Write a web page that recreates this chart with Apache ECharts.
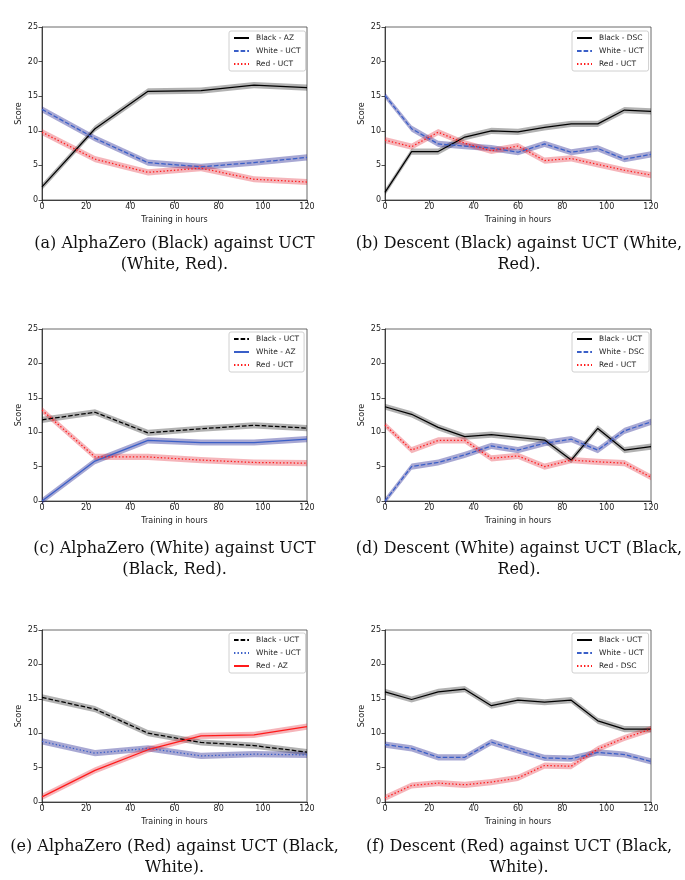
<!DOCTYPE html>
<html>
<head>
<meta charset="utf-8">
<script src="https://cdn.jsdelivr.net/npm/echarts@6/dist/echarts.min.js"></script>
<style>
  html, body { margin: 0; padding: 0; background: #fff; }
  #chart { width: 685px; height: 880px; }
</style>
</head>
<body>
<div id="chart"></div>
<script>
// x values (training hours)
const hoursAZ = [0, 24, 48, 72, 96, 120];
const hoursDSC = [0, 12, 24, 36, 48, 60, 72, 84, 96, 108, 120];
const xTicks = [0, 20, 40, 60, 80, 100, 120];
const yTicks = [0, 5, 10, 15, 20, 25];

// (a) AlphaZero (Black) vs UCT
const aBlack = [1.9, 10.3, 15.7, 15.8, 16.6, 16.25];
const aWhite = [13.1, 8.9, 5.4, 4.8, 5.4, 6.15];
const aRed   = [9.8, 5.9, 4.0, 4.6, 3.0, 2.6];
// (b) Descent (Black) vs UCT
const bBlack = [1.1, 7.0, 7.0, 9.1, 10.0, 9.85, 10.5, 11.0, 11.0, 13.0, 12.8];
const bWhite = [15.1, 10.3, 8.1, 7.8, 7.5, 6.9, 8.1, 6.9, 7.45, 5.9, 6.6];
const bRed   = [8.65, 7.7, 9.8, 8.2, 7.1, 7.8, 5.7, 6.0, 5.15, 4.3, 3.6];
// (c) AlphaZero (White) vs UCT
const cBlack = [11.8, 12.9, 9.9, 10.5, 11.0, 10.6];
const cWhite = [0, 5.8, 8.8, 8.5, 8.5, 9.0];
const cRed   = [13.2, 6.4, 6.4, 5.95, 5.6, 5.5];
// (d) Descent (White) vs UCT
const dBlack = [13.7, 12.6, 10.7, 9.35, 9.65, 9.25, 8.85, 5.95, 10.55, 7.4, 7.9];
const dWhite = [0, 5.0, 5.6, 6.7, 8.0, 7.4, 8.4, 9.0, 7.4, 10.2, 11.5];
const dRed   = [11.05, 7.4, 8.8, 8.8, 6.2, 6.55, 5.0, 5.95, 5.7, 5.5, 3.45];
// (e) AlphaZero (Red) vs UCT
const eBlack = [15.2, 13.5, 10.0, 8.65, 8.2, 7.25];
const eWhite = [8.8, 7.1, 7.8, 6.7, 6.95, 6.85];
const eRed   = [0.75, 4.6, 7.6, 9.6, 9.75, 10.95];
// (f) Descent (Red) vs UCT
const fBlack = [16.0, 14.9, 16.0, 16.4, 14.0, 14.8, 14.5, 14.8, 11.8, 10.6, 10.6];
const fWhite = [8.35, 7.8, 6.5, 6.5, 8.7, 7.5, 6.4, 6.3, 7.2, 6.9, 5.9];
const fRed   = [0.6, 2.4, 2.75, 2.5, 2.9, 3.5, 5.3, 5.2, 7.7, 9.3, 10.6];

// half-width of the shaded band around each line
const bandHalf = 0.45;

const captions = [
  '(a) AlphaZero (Black) against UCT\n(White, Red).',
  '(b) Descent (Black) against UCT (White,\nRed).',
  '(c) AlphaZero (White) against UCT\n(Black, Red).',
  '(d) Descent (White) against UCT (Black,\nRed).',
  '(e) AlphaZero (Red) against UCT (Black,\nWhite).',
  '(f) Descent (Red) against UCT (Black,\nWhite).'
];

const C = {
  black: { line: '#000000', band: 'rgba(0,0,0,0.3)' },
  white: { line: '#3a5fc8', band: 'rgba(25,25,140,0.38)' },
  red:   { line: '#ff1a1a', band: 'rgba(225,30,45,0.33)' }
};
const DASH = [4.6, 2];
const DOT = [1.4, 2.1];

const panels = [
  { hours: hoursAZ, lines: [
    { name: 'Black - AZ', data: aBlack, c: 'black', t: 'solid' },
    { name: 'White - UCT', data: aWhite, c: 'white', t: DASH },
    { name: 'Red - UCT', data: aRed, c: 'red', t: DOT }] },
  { hours: hoursDSC, lines: [
    { name: 'Black - DSC', data: bBlack, c: 'black', t: 'solid' },
    { name: 'White - UCT', data: bWhite, c: 'white', t: DASH },
    { name: 'Red - UCT', data: bRed, c: 'red', t: DOT }] },
  { hours: hoursAZ, lines: [
    { name: 'Black - UCT', data: cBlack, c: 'black', t: DASH },
    { name: 'White - AZ', data: cWhite, c: 'white', t: 'solid' },
    { name: 'Red - UCT', data: cRed, c: 'red', t: DOT }] },
  { hours: hoursDSC, lines: [
    { name: 'Black - UCT', data: dBlack, c: 'black', t: 'solid' },
    { name: 'White - DSC', data: dWhite, c: 'white', t: DASH },
    { name: 'Red - UCT', data: dRed, c: 'red', t: DOT }] },
  { hours: hoursAZ, lines: [
    { name: 'Black - UCT', data: eBlack, c: 'black', t: DASH },
    { name: 'White - UCT', data: eWhite, c: 'white', t: DOT },
    { name: 'Red - AZ', data: eRed, c: 'red', t: 'solid' }] },
  { hours: hoursDSC, lines: [
    { name: 'Black - UCT', data: fBlack, c: 'black', t: 'solid' },
    { name: 'White - UCT', data: fWhite, c: 'white', t: DASH },
    { name: 'Red - DSC', data: fRed, c: 'red', t: DOT }] }
];

// plot-area boxes
const colLeft = [42, 385];
const colWidth = [265, 266];
const rowTop = [27, 329, 630];
const rowHeight = [173, 172, 172];
const legendTop = [31, 332, 633];
const legendLeft = [229, 572];
const captionY = [233, 538, 836];

const FONT = 'DejaVu Sans';
const grids = [], xAxes = [], yAxes = [], series = [], legends = [], graphics = [];

// band: one polygon per line, built from all its [x, lo, hi] rows
function makeBandRenderer(rows) {
  return function (params, api) {
    if (params.dataIndex !== 0) return null;
    const upper = rows.map(r => api.coord([r[0], r[2]]));
    const lower = rows.map(r => api.coord([r[0], r[1]])).reverse();
    return {
      type: 'polygon',
      shape: { points: upper.concat(lower) },
      style: { fill: api.visual('color'), stroke: null },
      silent: true
    };
  };
}

panels.forEach((p, i) => {
  const col = i % 2, row = Math.floor(i / 2);
  grids.push({
    left: colLeft[col], top: rowTop[row], width: colWidth[col], height: rowHeight[row],
    show: true, borderColor: '#444', borderWidth: 0.8, backgroundColor: 'transparent'
  });
  xAxes.push({
    gridIndex: i, type: 'value', min: xTicks[0], max: xTicks[xTicks.length - 1], interval: 20,
    name: 'Training in hours', nameLocation: 'middle', nameGap: 16,
    nameTextStyle: { fontFamily: FONT, fontSize: 8, color: '#222' },
    axisLine: { show: true, onZero: false, lineStyle: { color: '#222', width: 0.8 } },
    axisTick: { show: true, length: 3.5, lineStyle: { color: '#222', width: 0.8 } },
    axisLabel: { fontFamily: FONT, fontSize: 8, color: '#222', margin: 3 },
    splitLine: { show: false }
  });
  yAxes.push({
    gridIndex: i, type: 'value', min: yTicks[0], max: yTicks[yTicks.length - 1], interval: 5,
    name: 'Score', nameLocation: 'middle', nameGap: 19,
    nameTextStyle: { fontFamily: FONT, fontSize: 8, color: '#222' },
    axisLine: { show: true, onZero: false, lineStyle: { color: '#222', width: 0.8 } },
    axisTick: { show: true, length: 3.5, lineStyle: { color: '#222', width: 0.8 } },
    axisLabel: { fontFamily: FONT, fontSize: 8, color: '#222', margin: 4 },
    splitLine: { show: false }
  });

  const names = [];
  p.lines.forEach((ln) => {
    const rows = p.hours.map((h, j) => [h, ln.data[j] - bandHalf, ln.data[j] + bandHalf]);
    series.push({
      type: 'custom', xAxisIndex: i, yAxisIndex: i, silent: true, z: 1,
      color: C[ln.c].band, renderItem: makeBandRenderer(rows), data: rows,
      encode: { x: 0, y: [1, 2] }
    });
    const sname = i + '|' + ln.name;
    names.push(sname);
    series.push({
      name: sname, type: 'line', xAxisIndex: i, yAxisIndex: i, z: 3,
      symbol: 'none', color: C[ln.c].line,
      lineStyle: { color: C[ln.c].line, width: 1.25, type: ln.t },
      data: p.hours.map((h, j) => [h, ln.data[j]])
    });
  });

  legends.push({
    data: names, orient: 'vertical', left: legendLeft[col], top: legendTop[row],
    itemWidth: 15, itemHeight: 6, itemGap: 5, padding: [3, 5, 3, 4],
    borderColor: '#d0d0d0', borderWidth: 1, borderRadius: 2, backgroundColor: '#fff',
    selectedMode: false,
    itemStyle: { opacity: 0 },
    formatter: n => n.split('|')[1],
    textStyle: { fontFamily: FONT, fontSize: 7.5, color: '#222', padding: [0, 0, 0, 2] }
  });

  graphics.push({
    type: 'text', x: colLeft[col] + colWidth[col] / 2 + (col === 0 ? 0 : 1), y: captionY[row],
    style: {
      text: captions[i], textAlign: 'center', textVerticalAlign: 'top',
      font: '16px "DejaVu Serif"', lineHeight: 21, fill: '#111'
    }
  });
});

const chart = echarts.init(document.getElementById('chart'), null, { renderer: 'canvas' });
chart.setOption({
  animation: false,
  backgroundColor: '#fff',
  grid: grids,
  xAxis: xAxes,
  yAxis: yAxes,
  legend: legends,
  series: series,
  graphic: graphics
});
window.onresize = function () { chart.resize(); };
</script>
</body>
</html>
